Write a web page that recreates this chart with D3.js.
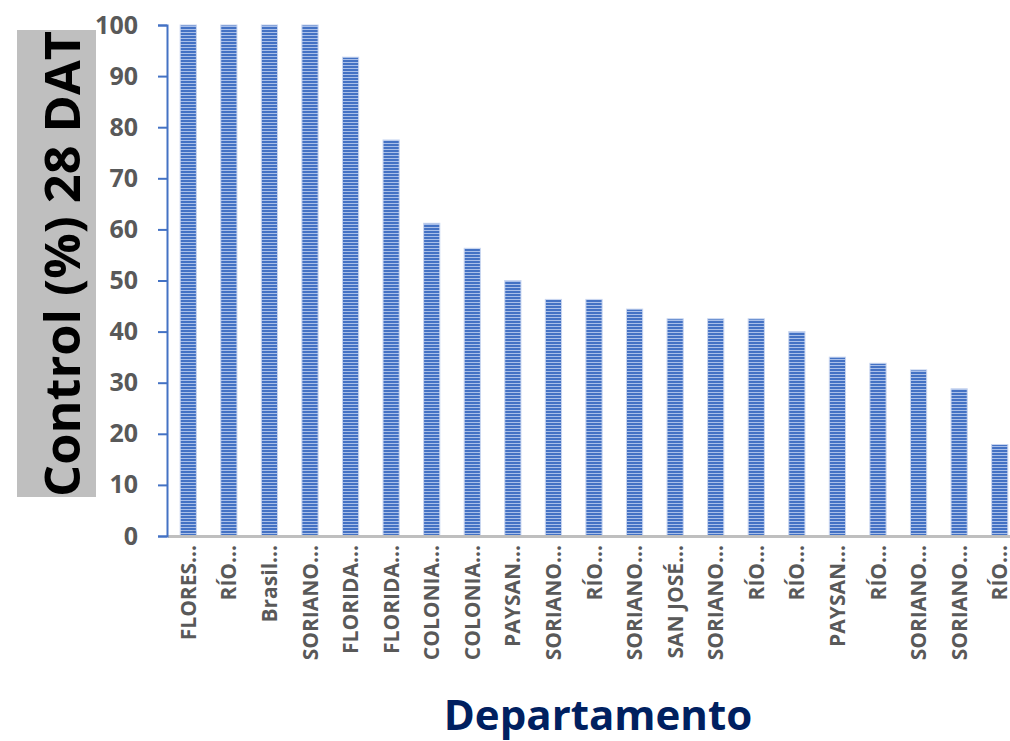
<!DOCTYPE html>
<html>
<head>
<meta charset="utf-8">
<script src="https://cdn.jsdelivr.net/npm/d3@7"></script>
<style>
  html, body { margin: 0; padding: 0; background: #ffffff; }
  svg { display: block; }
</style>
</head>
<body>
<svg id="chart" width="1010" height="741"></svg>
<script>
// Departments (truncated as displayed on the axis)
const categories = [
  "FLORES…", "RÍO…", "Brasil…", "SORIANO…", "FLORIDA…", "FLORIDA…", "COLONIA…",
  "COLONIA…", "PAYSAN…", "SORIANO…", "RÍO…", "SORIANO…", "SAN JOSÉ…", "SORIANO…",
  "RÍO…", "RÍO…", "PAYSAN…", "RÍO…", "SORIANO…", "SORIANO…", "RÍO…"
];
// Control (%) at 28 days after treatment
const controlValues = [
  100, 100, 100, 100, 93.7, 77.5, 61.2, 56.3, 50, 46.3, 46.3,
  44.4, 42.5, 42.5, 42.5, 40, 35, 33.8, 32.5, 28.8, 17.9
];
const yTicks = [0, 10, 20, 30, 40, 50, 60, 70, 80, 90, 100];
const yTitle = "Control (%) 28 DAT";
const xTitle = "Departamento";

const svg = d3.select("#chart");
const plot = { left: 168, right: 1020, top: 25, bottom: 536 };

const x = d3.scaleBand()
  .domain(d3.range(categories.length))
  .range([plot.left, plot.right])
  .paddingInner(0.6)
  .paddingOuter(0.3);

const y = d3.scaleLinear().domain([0, 100]).range([plot.bottom, plot.top]);

// Horizontal-stripe fill for the bars
const defs = svg.append("defs");
const pat = defs.append("pattern")
  .attr("id", "stripes")
  .attr("patternUnits", "userSpaceOnUse")
  .attr("width", 6).attr("height", 3);
pat.append("rect").attr("width", 6).attr("height", 3).attr("fill", "#a9bfe9");
pat.append("rect").attr("width", 6).attr("height", 2).attr("fill", "#4472c4");

// Bars
svg.append("g")
  .selectAll("rect")
  .data(controlValues)
  .join("rect")
  .attr("x", (d, i) => x(i))
  .attr("y", d => y(d))
  .attr("width", x.bandwidth())
  .attr("height", d => y(0) - y(d))
  .attr("fill", "url(#stripes)")
  .attr("stroke", "#c9d6f0")
  .attr("stroke-width", 1);

// X axis (gray baseline with rotated category labels)
const xAxis = svg.append("g")
  .attr("transform", `translate(0,${plot.bottom})`)
  .call(d3.axisBottom(x).tickSize(0).tickFormat(i => categories[i]));
xAxis.select(".domain")
  .attr("d", `M${plot.left},0.5H1010`)
  .attr("stroke", "#bfbfbf")
  .attr("stroke-width", 3);
xAxis.selectAll("text")
  .attr("transform", "rotate(-90)")
  .attr("text-anchor", "end")
  .attr("dx", "-9px")
  .attr("dy", "0.36em")
  .attr("x", 0).attr("y", 0)
  .style("font-family", "'Open Sans', sans-serif")
  .style("font-weight", "700")
  .style("font-size", "21px")
  .attr("fill", "#595959");

// Y axis (blue line with outward ticks)
const yAxis = svg.append("g")
  .attr("transform", `translate(${plot.left - 1},0)`)
  .call(d3.axisLeft(y).tickValues(yTicks).tickSize(9).tickSizeOuter(9).tickPadding(20));
yAxis.select(".domain").attr("stroke", "#4472c4").attr("stroke-width", 2);
yAxis.selectAll(".tick line").attr("stroke", "#4472c4").attr("stroke-width", 2);
yAxis.selectAll("text")
  .style("font-family", "'Open Sans', sans-serif")
  .style("font-weight", "700")
  .style("font-size", "25px")
  .attr("fill", "#595959");

// Y title on gray panel
svg.append("rect")
  .attr("x", 17).attr("y", 30)
  .attr("width", 79).attr("height", 467)
  .attr("fill", "#bfbfbf");
svg.append("text")
  .attr("transform", "translate(80,497) rotate(-90)")
  .attr("text-anchor", "start")
  .attr("textLength", 466)
  .attr("lengthAdjust", "spacingAndGlyphs")
  .style("font-family", "'Open Sans', sans-serif")
  .style("font-weight", "700")
  .style("font-size", "48px")
  .attr("fill", "#000000")
  .text(yTitle);

// X title
svg.append("text")
  .attr("x", 598).attr("y", 730)
  .attr("text-anchor", "middle")
  .style("font-family", "'Open Sans', sans-serif")
  .style("font-weight", "700")
  .style("font-size", "42px")
  .attr("fill", "#002060")
  .text(xTitle);
</script>
</body>
</html>
